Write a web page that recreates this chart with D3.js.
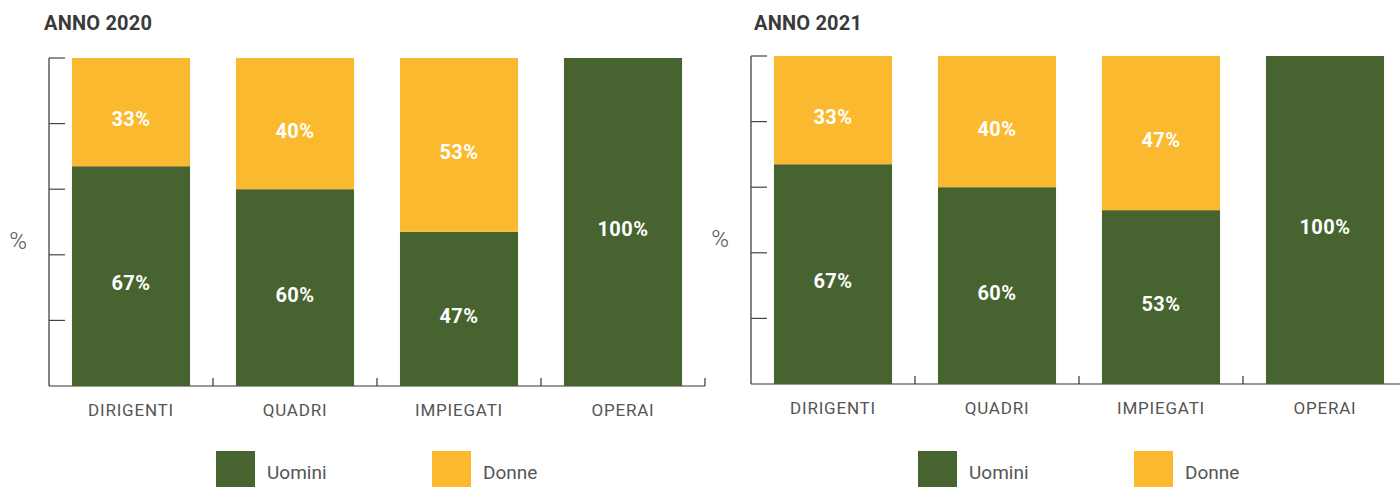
<!DOCTYPE html>
<html>
<head>
<meta charset="utf-8">
<script src="https://cdn.jsdelivr.net/npm/d3@7"></script>
<style>
  body { margin: 0; background: #fff; }
  svg { display: block; font-family: Roboto, "Noto Sans", sans-serif; }
</style>
</head>
<body>
<div id="chart"></div>
<script>
const categories = ["DIRIGENTI", "QUADRI", "IMPIEGATI", "OPERAI"];
const years = ["ANNO 2020", "ANNO 2021"];
const uomini2020 = [67, 60, 47, 100];
const donne2020 = [33, 40, 53, 0];
const uomini2021 = [67, 60, 53, 100];
const donne2021 = [33, 40, 47, 0];
const yTicks = [0, 20, 40, 60, 80, 100];
const seriesNames = ["Uomini", "Donne"];

const GREEN = "#466330";
const YELLOW = "#fbb92f";

const width = 1400, height = 487;
const svg = d3.select("#chart").append("svg")
  .attr("width", width).attr("height", height);

// one panel per year
const panels = [
  { title: years[0], u: uomini2020, d: donne2020, x0: 49, top: 58, titleX: 44, titleY: 30, legendX: 216 },
  { title: years[1], u: uomini2021, d: donne2021, x0: 751, top: 56, titleX: 754, titleY: 30, legendX: 918 }
];

panels.forEach(p => {
  const plotW = 656, plotH = 328;
  const g = svg.append("g");

  const x = d3.scaleBand()
    .domain(categories)
    .range([p.x0, p.x0 + plotW])
    .paddingInner(0.28)
    .paddingOuter(0.14);

  const y = d3.scaleLinear()
    .domain([0, 100])
    .range([p.top + plotH, p.top]);

  // titolo
  g.append("text")
    .attr("x", p.titleX).attr("y", p.titleY)
    .attr("fill", "#3a3a3a")
    .style("font-size", "20px")
    .style("font-weight", 700)
    .style("letter-spacing", "0.2px")
    .text(p.title);

  // asse y (tick verso l'interno)
  g.append("line")
    .attr("x1", p.x0).attr("x2", p.x0)
    .attr("y1", y(100)).attr("y2", y(0))
    .attr("stroke", "#333").attr("stroke-width", 1.2);
  g.selectAll(".ytick").data(yTicks.slice(1)).enter().append("line")
    .attr("x1", p.x0).attr("x2", p.x0 + 16)
    .attr("y1", d => y(d)).attr("y2", d => y(d))
    .attr("stroke", "#444").attr("stroke-width", 1.2);

  // asse x con tick tra le categorie
  g.append("line")
    .attr("x1", p.x0).attr("x2", p.x0 + plotW)
    .attr("y1", y(0)).attr("y2", y(0))
    .attr("stroke", "#333").attr("stroke-width", 1.2);
  const bounds = categories.map(c => x(c) - x.step() * x.paddingInner() / 2).slice(1)
    .concat([p.x0 + plotW]);
  g.selectAll(".xtick").data(bounds).enter().append("line")
    .attr("x1", d => d).attr("x2", d => d)
    .attr("y1", y(0)).attr("y2", y(0) - 8)
    .attr("stroke", "#333").attr("stroke-width", 1.2);

  // etichetta %
  g.append("text")
    .attr("x", p.x0 - 31).attr("y", (y(0) + y(100)) / 2 + 27)
    .attr("text-anchor", "middle")
    .attr("fill", "#555")
    .style("font-size", "24px")
    .style("font-weight", 300)
    .text("%");

  // barre impilate
  const rows = categories.map((c, i) => ({ cat: c, u: p.u[i], d: p.d[i] }));
  const segs = [];
  rows.forEach(r => {
    segs.push({ cat: r.cat, v0: 0, v1: r.u, color: GREEN });
    if (r.d > 0) segs.push({ cat: r.cat, v0: r.u, v1: r.u + r.d, color: YELLOW });
  });

  g.selectAll(".bar").data(segs).enter().append("rect")
    .attr("x", d => x(d.cat))
    .attr("width", x.bandwidth())
    .attr("y", d => y(d.v1))
    .attr("height", d => y(d.v0) - y(d.v1))
    .attr("fill", d => d.color);

  g.selectAll(".lbl").data(segs).enter().append("text")
    .attr("x", d => x(d.cat) + x.bandwidth() / 2)
    .attr("y", d => (y(d.v0) + y(d.v1)) / 2 + 14)
    .attr("text-anchor", "middle")
    .attr("fill", "#fff")
    .style("font-size", "20px")
    .style("font-weight", 700)
    .style("letter-spacing", "0.5px")
    .text(d => (d.v1 - d.v0) + "%");

  // categorie
  g.selectAll(".cat").data(categories).enter().append("text")
    .attr("x", d => x(d) + x.bandwidth() / 2)
    .attr("y", y(0) + 30)
    .attr("text-anchor", "middle")
    .attr("fill", "#555")
    .style("font-size", "17px")
    .style("letter-spacing", "0.8px")
    .text(d => d);

  // legenda
  const legend = g.append("g").attr("transform", `translate(${p.legendX}, 451)`);
  [GREEN, YELLOW].forEach((col, i) => {
    const lg = legend.append("g").attr("transform", `translate(${i * 216}, 0)`);
    lg.append("rect").attr("width", 39).attr("height", 36).attr("fill", col);
    lg.append("text")
      .attr("x", 51).attr("y", 28)
      .attr("fill", "#555")
      .style("font-size", "19px")
      .text(seriesNames[i]);
  });
});
</script>
</body>
</html>
